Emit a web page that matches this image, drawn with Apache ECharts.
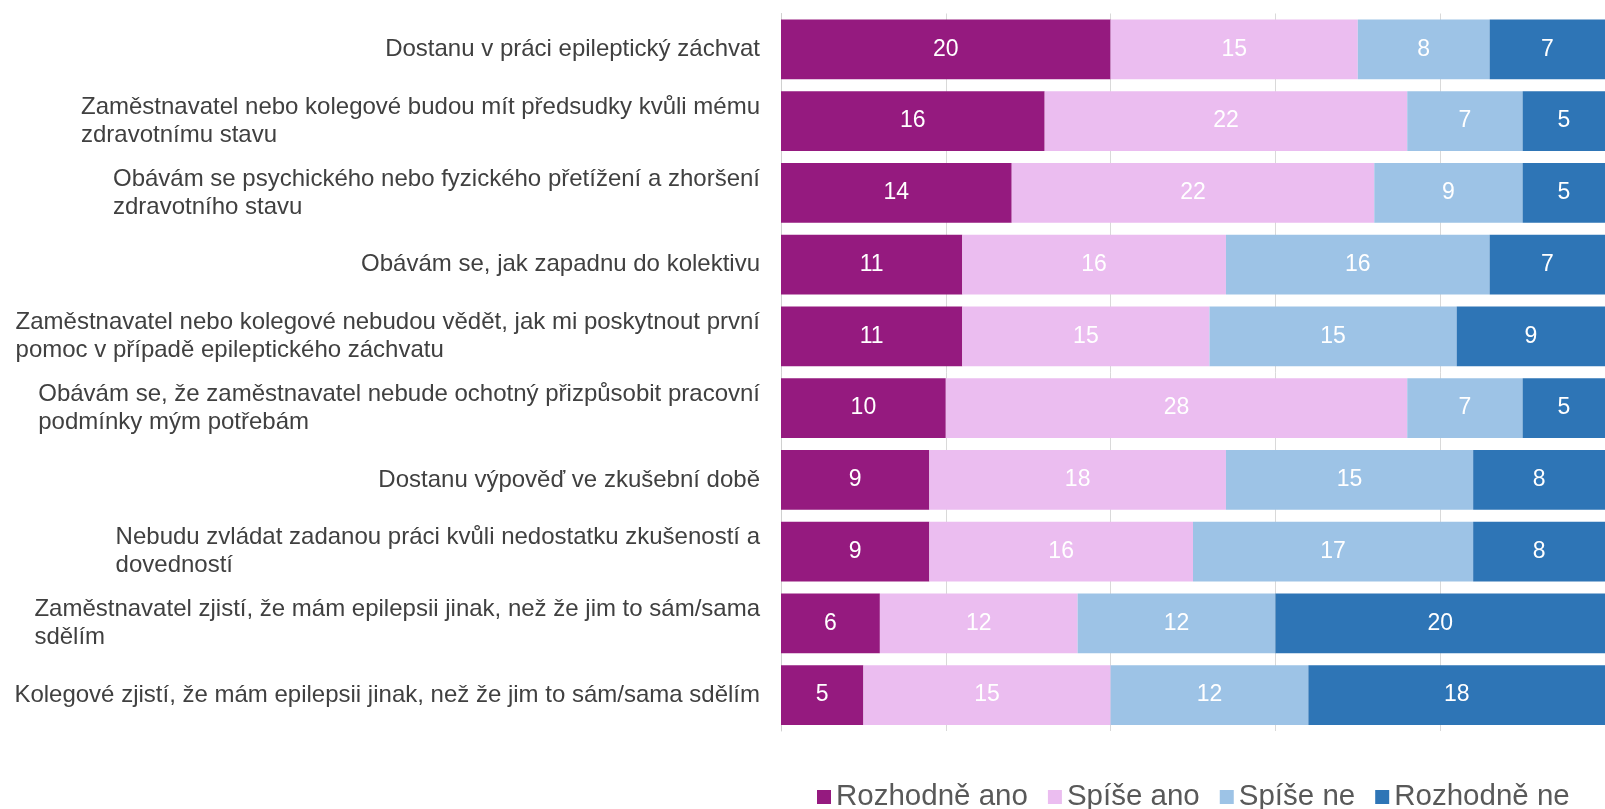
<!DOCTYPE html>
<html>
<head>
<meta charset="utf-8">
<script src="https://cdn.jsdelivr.net/npm/echarts@6/dist/echarts.min.js"></script>
<style>
  html, body { margin: 0; padding: 0; background: #fff; }
  #chart { width: 1605px; height: 809px; }
</style>
</head>
<body>
<div id="chart"></div>
<script>
// Obavy při nástupu do práce — stacked horizontal bars, top row first.
var categories = [
  "Dostanu v práci epileptický záchvat",
  "Zaměstnavatel nebo kolegové budou mít předsudky kvůli mému\nzdravotnímu stavu",
  "Obávám se psychického nebo fyzického přetížení a zhoršení\nzdravotního stavu",
  "Obávám se, jak zapadnu do kolektivu",
  "Zaměstnavatel nebo kolegové nebudou vědět, jak mi poskytnout první\npomoc v případě epileptického záchvatu",
  "Obávám se, že zaměstnavatel nebude ochotný přizpůsobit pracovní\npodmínky mým potřebám",
  "Dostanu výpověď ve zkušební době",
  "Nebudu zvládat zadanou práci kvůli nedostatku zkušeností a\ndovedností",
  "Zaměstnavatel zjistí, že mám epilepsii jinak, než že jim to sám/sama\nsdělím",
  "Kolegové zjistí, že mám epilepsii jinak, než že jim to sám/sama sdělím"
];
var seriesNames = ["Rozhodně ano", "Spíše ano", "Spíše ne", "Rozhodně ne"];
var rozhodneAno = [20, 16, 14, 11, 11, 10, 9, 9, 6, 5];
var spiseAno    = [15, 22, 22, 16, 15, 28, 18, 16, 12, 15];
var spiseNe     = [8, 7, 9, 16, 15, 7, 15, 17, 12, 12];
var rozhodneNe  = [7, 5, 5, 7, 9, 5, 8, 8, 20, 18];
var colors = ["#951a7f", "#ebbdf0", "#9dc3e6", "#2e75b6"];

var values = [rozhodneAno, spiseAno, spiseNe, rozhodneNe];

var chart = echarts.init(document.getElementById("chart"));
chart.setOption({
  animation: false,
  textStyle: { fontFamily: "Liberation Sans, Arial, sans-serif" },
  // plot runs a few px past the right edge, as in the source image
  grid: { left: 781, width: 829, top: 13.5, bottom: 78 },
  xAxis: {
    type: "value", min: 0, max: 50, interval: 10,
    axisLine: { show: false }, axisTick: { show: false }, axisLabel: { show: false },
    splitLine: { lineStyle: { color: "#d9d9d9", width: 1 } }
  },
  yAxis: {
    type: "category", inverse: true, data: categories,
    axisLine: { lineStyle: { color: "#d0d0d0", width: 1 } },
    axisTick: { length: 5, lineStyle: { color: "#d0d0d0" } },
    axisLabel: {
      margin: 21, color: "#404040", fontSize: 24, lineHeight: 28,
      formatter: function (v) {
        return v.split("\n").map(function (l) { return "{a|" + l + "}"; }).join("\n");
      },
      rich: { a: { align: "left", fontSize: 24, lineHeight: 28, color: "#404040" } }
    }
  },
  legend: {
    left: 812, top: 777,
    itemWidth: 14, itemHeight: 14, itemGap: 20,
    icon: "rect",
    textStyle: { fontSize: 29.5, color: "#595959" },
    data: seriesNames
  },
  series: seriesNames.map(function (name, i) {
    return {
      name: name, type: "bar", stack: "total",
      barCategoryGap: "17%",
      itemStyle: { color: colors[i] },
      label: { show: true, position: "inside", color: "#fff", fontSize: 23 },
      data: values[i]
    };
  })
});
</script>
</body>
</html>
